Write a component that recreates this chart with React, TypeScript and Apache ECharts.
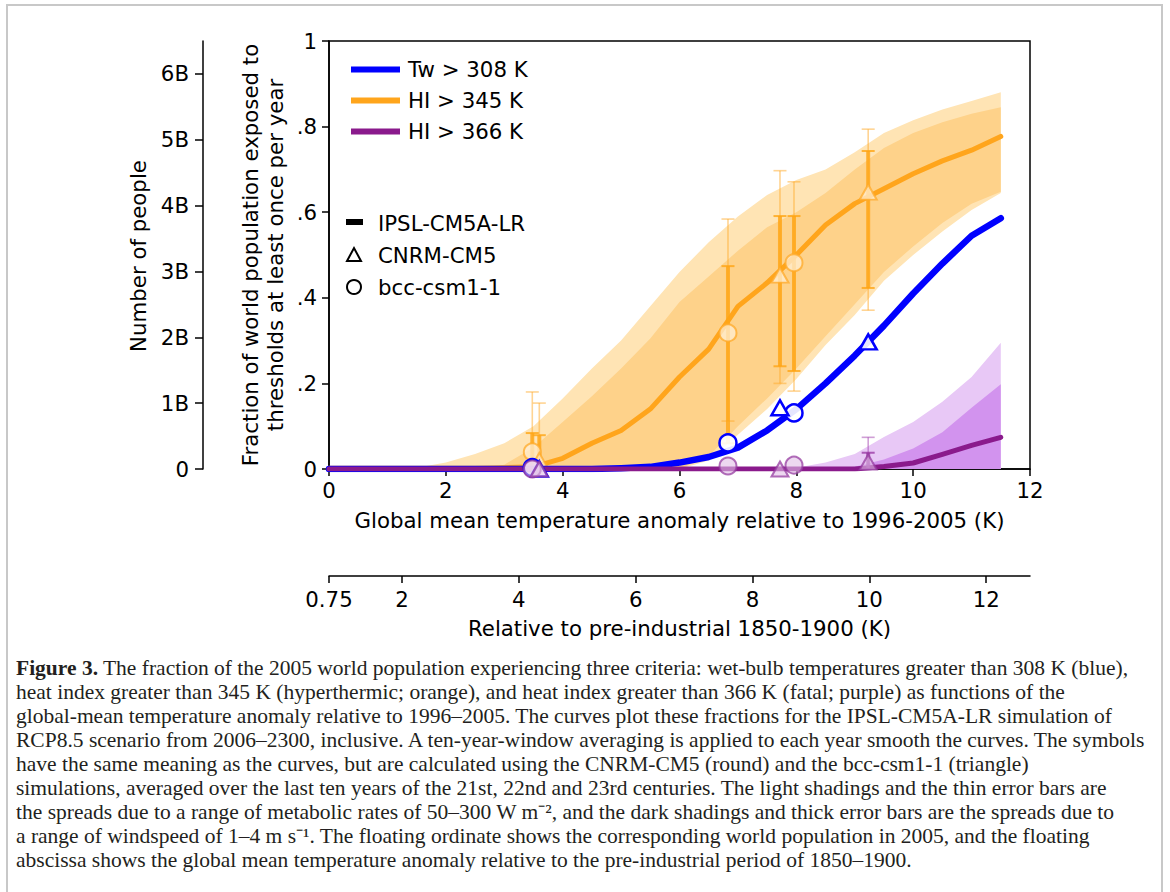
import React, { useEffect, useRef } from "react";
import * as echarts from "echarts";

// Temperature anomaly grid (K, relative to 1996-2005)
const TX = [0, 1, 1.5, 2, 2.5, 3, 3.5, 4, 4.5, 5, 5.5, 6, 6.5, 7, 7.5, 8, 8.5, 9, 9.5, 10, 10.5, 11, 11.5];

// HI > 345 K (orange), IPSL-CM5A-LR
const ORANGE_LINE = [0.002, 0.002, 0.002, 0.002, 0.002, 0.003, 0.005, 0.025, 0.06, 0.09, 0.14, 0.215, 0.28, 0.38, 0.435, 0.5, 0.57, 0.62, 0.655, 0.69, 0.72, 0.745, 0.777];
const ORANGE_LIGHT_UP = [0, 0, 0.003, 0.015, 0.035, 0.06, 0.1, 0.165, 0.235, 0.3, 0.38, 0.46, 0.53, 0.59, 0.64, 0.675, 0.7, 0.74, 0.785, 0.815, 0.84, 0.86, 0.88];
const ORANGE_LIGHT_LO = [0, 0, 0, 0, 0, 0, 0, 0, 0, 0, 0, 0, 0.02, 0.08, 0.14, 0.21, 0.29, 0.36, 0.44, 0.5, 0.555, 0.605, 0.645];
const ORANGE_DARK_UP = [0, 0, 0, 0, 0.002, 0.01, 0.05, 0.11, 0.17, 0.235, 0.305, 0.39, 0.45, 0.51, 0.565, 0.6, 0.645, 0.7, 0.75, 0.785, 0.81, 0.83, 0.845];
const ORANGE_DARK_LO = [0, 0, 0, 0, 0, 0, 0, 0, 0, 0, 0, 0, 0.03, 0.1, 0.165, 0.235, 0.31, 0.385, 0.46, 0.52, 0.575, 0.62, 0.648];

// Tw > 308 K (blue)
const BLUE_LINE = [0, 0, 0, 0, 0, 0, 0, 0, 0, 0.002, 0.005, 0.015, 0.028, 0.05, 0.09, 0.14, 0.2, 0.265, 0.335, 0.41, 0.48, 0.545, 0.586];

// HI > 366 K (purple)
const PURPLE_LINE = [0, 0, 0, 0, 0, 0, 0, 0, 0, 0, 0, 0, 0, 0, 0, 0, 0, 0, 0.006, 0.014, 0.034, 0.055, 0.074];
const PURPLE_LIGHT_UP = [0, 0, 0, 0, 0, 0, 0, 0, 0, 0, 0, 0, 0, 0, 0, 0.003, 0.015, 0.035, 0.075, 0.11, 0.157, 0.215, 0.295];
const PURPLE_DARK_UP = [0, 0, 0, 0, 0, 0, 0, 0, 0, 0, 0, 0, 0, 0, 0, 0, 0, 0.005, 0.022, 0.048, 0.086, 0.143, 0.198];
const PURPLE_LO = [0, 0, 0, 0, 0, 0, 0, 0, 0, 0, 0, 0, 0, 0, 0, 0, 0, 0, 0, 0, 0, 0, 0];

// Symbols: [anomaly, fraction]; bcc-csm1-1 = circles, CNRM-CM5 = triangles
const ORANGE_CIRCLES = [[3.48, 0.04], [6.83, 0.318], [7.96, 0.482]];
const ORANGE_TRIANGLES = [[3.6, 0.02], [7.72, 0.453], [9.23, 0.647]];
const BLUE_CIRCLES = [[3.48, 0.003], [6.83, 0.061], [7.96, 0.131]];
const BLUE_TRIANGLES = [[3.6, 0.0], [7.72, 0.143], [9.23, 0.297]];
const PURPLE_CIRCLES = [[3.48, 0.0], [6.83, 0.007], [7.96, 0.009]];
const PURPLE_TRIANGLES = [[3.6, 0.0], [7.72, 0.0], [9.23, 0.016]];

// Error bars: [anomaly, low, high]
const ORANGE_THIN_BARS = [[3.48, 0, 0.18], [3.6, 0, 0.154], [6.83, 0.112, 0.584], [7.72, 0.2, 0.697], [7.96, 0.182, 0.671], [9.23, 0.371, 0.794]];
const ORANGE_THICK_BARS = [[3.48, 0, 0.084], [3.6, 0, 0.079], [6.83, 0.06, 0.474], [7.72, 0.24, 0.591], [7.96, 0.229, 0.591], [9.23, 0.423, 0.743]];
const PURPLE_THIN_BARS = [[9.23, 0, 0.074]];
const PURPLE_THICK_BARS = [[9.23, 0, 0.038]];

// Tick labels
const X_TICKS = [0, 2, 4, 6, 8, 10, 12];
const POP_TICKS = [0, 1, 2, 3, 4, 5, 6];
const PREIND_TICKS = [0.75, 2, 4, 6, 8, 10, 12];

const LEGEND_LINES = ["Tw > 308 K", "HI > 345 K", "HI > 366 K"];
const LEGEND_MODELS = ["IPSL-CM5A-LR", "CNRM-CM5", "bcc-csm1-1"];

const CAPTION = [
  "{b|Figure 3.} The fraction of the 2005 world population experiencing three criteria: wet-bulb temperatures greater than 308 K (blue),",
  "heat index greater than 345 K (hyperthermic; orange), and heat index greater than 366 K (fatal; purple) as functions of the",
  "global-mean temperature anomaly relative to 1996–2005. The curves plot these fractions for the IPSL-CM5A-LR simulation of",
  "RCP8.5 scenario from 2006–2300, inclusive. A ten-year-window averaging is applied to each year smooth the curves. The symbols",
  "have the same meaning as the curves, but are calculated using the CNRM-CM5 (round) and the bcc-csm1-1 (triangle)",
  "simulations, averaged over the last ten years of the 21st, 22nd and 23rd centuries. The light shadings and the thin error bars are",
  "the spreads due to a range of metabolic rates of 50–300 W m⁻², and the dark shadings and thick error bars are the spreads due to",
  "a range of windspeed of 1–4 m s⁻¹. The floating ordinate shows the corresponding world population in 2005, and the floating",
  "abscissa shows the global mean temperature anomaly relative to the pre-industrial period of 1850–1900.",
];

const FONT = "DejaVu Sans";
const FS = 21.3;
const SERIF = "Liberation Serif";
const CAP_FS = 21.5;
const BLUE = "#0000ff";
const ORANGE = "#ffa51c";
const PURPLE = "#8a1a8c";

function band(name: string, lower: number[], upper: number[], fill: string, z: number) {
  return {
    type: "custom",
    name,
    z,
    silent: true,
    data: TX.map((t, i) => [t, lower[i], upper[i]]),
    encode: { x: 0, y: [1, 2] },
    renderItem: (params: any, api: any) => {
      if (params.dataIndex !== 0) return null;
      const pts: number[][] = [];
      for (let i = 0; i < TX.length; i++) pts.push(api.coord([TX[i], upper[i]]));
      for (let i = TX.length - 1; i >= 0; i--) pts.push(api.coord([TX[i], lower[i]]));
      return { type: "polygon", shape: { points: pts }, style: { fill } };
    },
  };
}

function errorBars(name: string, data: number[][], color: string, width: number, capWidth: number, z: number) {
  return {
    type: "custom",
    name,
    z,
    silent: true,
    data,
    encode: { x: 0, y: [1, 2] },
    renderItem: (_params: any, api: any) => {
      const x = api.value(0);
      const p1 = api.coord([x, api.value(1)]);
      const p2 = api.coord([x, api.value(2)]);
      const hw = 6.5;
      return {
        type: "group",
        children: [
          { type: "line", shape: { x1: p1[0], y1: p1[1], x2: p2[0], y2: p2[1] }, style: { stroke: color, lineWidth: width } },
          { type: "line", shape: { x1: p1[0] - hw, y1: p1[1], x2: p1[0] + hw, y2: p1[1] }, style: { stroke: color, lineWidth: capWidth } },
          { type: "line", shape: { x1: p2[0] - hw, y1: p2[1], x2: p2[0] + hw, y2: p2[1] }, style: { stroke: color, lineWidth: capWidth } },
        ],
      };
    },
  };
}

function markers(name: string, data: number[][], symbol: string, size: number | number[], fill: string, stroke: string, bw: number, z: number) {
  return {
    type: "scatter",
    name,
    z,
    clip: false,
    silent: true,
    symbol,
    symbolSize: size,
    data,
    itemStyle: { color: fill, borderColor: stroke, borderWidth: bw, opacity: 1 },
  };
}

function lineSeries(name: string, values: number[], color: string, width: number, z: number) {
  return {
    type: "line",
    name,
    z,
    silent: true,
    showSymbol: false,
    symbol: "none",
    color,
    data: TX.map((t, i) => [t, values[i]]),
    lineStyle: { color, width, cap: "round", join: "round" },
    itemStyle: { color },
  };
}

export default function App() {
  const ref = useRef<HTMLDivElement>(null);
  useEffect(() => {
    document.body.style.margin = "0";
    const chart = echarts.init(ref.current!, null, { renderer: "svg" });
    const axisText = { fontFamily: FONT, fontSize: FS, color: "#000" };
    const axisLine = { show: true, lineStyle: { color: "#000", width: 1.5 } };

    const graphic: any[] = [
      { type: "rect", shape: { x: 7, y: 5, width: 1155, height: 900 }, style: { fill: "none", stroke: "#c8c8c8", lineWidth: 2 }, silent: true },
      { type: "text", x: 138, y: 256, rotation: Math.PI / 2, style: { text: "Number of people", fontFamily: FONT, fontSize: FS, fill: "#000", align: "center", verticalAlign: "middle" } },
      { type: "text", x: 250, y: 255, rotation: Math.PI / 2, style: { text: "Fraction of world population exposed to", fontFamily: FONT, fontSize: FS, fill: "#000", align: "center", verticalAlign: "middle" } },
      { type: "text", x: 275, y: 255, rotation: Math.PI / 2, style: { text: "thresholds at least once per year", fontFamily: FONT, fontSize: FS, fill: "#000", align: "center", verticalAlign: "middle" } },
      // model legend
      { type: "rect", shape: { x: 346, y: 219, width: 17, height: 6 }, style: { fill: "#000" } },
      { type: "polygon", shape: { points: [[347, 261], [361, 261], [354, 248]] }, style: { fill: "none", stroke: "#000", lineWidth: 2 } },
      { type: "circle", shape: { cx: 354, cy: 287, r: 7 }, style: { fill: "none", stroke: "#000", lineWidth: 2 } },
      ...LEGEND_MODELS.map((t, i) => ({
        type: "text", x: 378, y: [223, 255, 287][i],
        style: { text: t, fontFamily: FONT, fontSize: FS, fill: "#000", verticalAlign: "middle" },
      })),
      ...CAPTION.map((t, i) => ({
        type: "text", x: 16, y: 668 + i * 24,
        style: {
          text: t, fontFamily: SERIF, fontSize: CAP_FS, fill: "#231f20", verticalAlign: "middle",
          rich: { b: { fontFamily: SERIF, fontSize: CAP_FS, fontWeight: "bold", fill: "#231f20" } },
        },
      })),
    ];

    const option: any = {
      animation: false,
      backgroundColor: "#fff",
      grid: [
        { left: 329, top: 41, width: 701, height: 428, show: true, borderColor: "#000", borderWidth: 1.5, backgroundColor: "transparent", outerBoundsMode: "none", containLabel: false },
        { left: 203, top: 41, width: 1, height: 428, outerBoundsMode: "none", containLabel: false },
        { left: 329, top: 575, width: 701, height: 1, outerBoundsMode: "none", containLabel: false },
      ],
      xAxis: [
        {
          gridIndex: 0, type: "value", min: 0, max: 12, interval: 2,
          axisLine, axisTick: { show: true, length: 7, lineStyle: { color: "#000", width: 1.5 } },
          axisLabel: { ...axisText, margin: 11, customValues: X_TICKS },
          splitLine: { show: false },
          name: "Global mean temperature anomaly relative to 1996-2005 (K)",
          nameLocation: "middle", nameGap: 41, nameTextStyle: axisText,
        },
        { gridIndex: 1, type: "value", show: false, min: 0, max: 1 },
        {
          gridIndex: 2, type: "value", min: 0.75, max: 12.75, position: "bottom",
          axisLine, axisTick: { show: true, length: 7, customValues: PREIND_TICKS, lineStyle: { color: "#000", width: 1.5 } },
          axisLabel: { ...axisText, margin: 13, customValues: PREIND_TICKS, formatter: (v: number) => (v === 0.75 ? "0.75" : String(v)) },
          splitLine: { show: false },
          name: "Relative to pre-industrial 1850-1900 (K)",
          nameLocation: "middle", nameGap: 42, nameTextStyle: axisText,
        },
      ],
      yAxis: [
        {
          gridIndex: 0, type: "value", min: 0, max: 1, interval: 0.2,
          axisLine, axisTick: { show: true, length: 7, lineStyle: { color: "#000", width: 1.5 } },
          axisLabel: { ...axisText, margin: 12, formatter: (v: number) => (v === 0 ? "0" : v >= 1 ? "1" : "." + Math.round(v * 10)) },
          splitLine: { show: false },
        },
        {
          gridIndex: 1, type: "value", min: 0, max: 6.5, position: "left",
          axisLine, axisTick: { show: true, length: 8, customValues: POP_TICKS, lineStyle: { color: "#000", width: 1.5 } },
          axisLabel: { ...axisText, margin: 14, customValues: POP_TICKS, formatter: (v: number) => (v === 0 ? "0" : v + "B") },
          splitLine: { show: false },
        },
        { gridIndex: 2, type: "value", show: false, min: 0, max: 1 },
      ],
      legend: {
        left: 346, top: 54, orient: "vertical", itemWidth: 49, itemHeight: 6, itemGap: 10, icon: "rect",
        selectedMode: false,
        itemStyle: { borderWidth: 0 },
        textStyle: { fontFamily: FONT, fontSize: FS, color: "#000", lineHeight: 20, padding: [0, 0, 0, 3] },
        data: LEGEND_LINES,
      },
      graphic,
      series: [
        band("orange light", ORANGE_LIGHT_LO, ORANGE_LIGHT_UP, "#ffe4b4", 1),
        band("orange dark", ORANGE_DARK_LO, ORANGE_DARK_UP, "#fed28a", 2),
        band("purple light", PURPLE_LO, PURPLE_LIGHT_UP, "#e8c8f6", 3),
        band("purple dark", PURPLE_LO, PURPLE_DARK_UP, "#d293ee", 4),
        lineSeries(LEGEND_LINES[1], ORANGE_LINE, ORANGE, 5, 5),
        errorBars("orange thin", ORANGE_THIN_BARS, "rgba(255,170,40,0.5)", 1.6, 1.6, 6),
        errorBars("orange thick", ORANGE_THICK_BARS, "rgba(255,165,20,0.8)", 4, 2, 7),
        markers("orange circles", ORANGE_CIRCLES, "circle", 17, "rgba(255,238,210,0.75)", "rgba(255,170,40,0.75)", 2, 8),
        markers("orange triangles", ORANGE_TRIANGLES, "triangle", [17, 15], "rgba(255,238,210,0.75)", "rgba(255,170,40,0.75)", 2, 8),
        lineSeries(LEGEND_LINES[0], BLUE_LINE, BLUE, 6.5, 9),
        lineSeries(LEGEND_LINES[2], PURPLE_LINE, PURPLE, 5, 10),
        markers("blue circles", BLUE_CIRCLES, "circle", 17, "rgba(255,255,255,0.9)", BLUE, 2.5, 11),
        markers("blue triangles", BLUE_TRIANGLES, "triangle", [17, 15], "rgba(255,255,255,0.9)", BLUE, 2.5, 11),
        errorBars("purple thin", PURPLE_THIN_BARS, "rgba(170,80,180,0.55)", 1.6, 1.6, 12),
        errorBars("purple thick", PURPLE_THICK_BARS, "rgba(150,50,160,0.75)", 4, 2, 12),
        markers("purple circles", PURPLE_CIRCLES, "circle", 17, "rgba(225,190,230,0.6)", "rgba(150,60,160,0.75)", 2, 13),
        markers("purple triangles", PURPLE_TRIANGLES, "triangle", [17, 15], "rgba(225,190,230,0.6)", "rgba(150,60,160,0.75)", 2, 13),
      ],
    };
    chart.setOption(option);
    return () => chart.dispose();
  }, []);
  return <div ref={ref} style={{ width: 1170, height: 892 }} />;
}
